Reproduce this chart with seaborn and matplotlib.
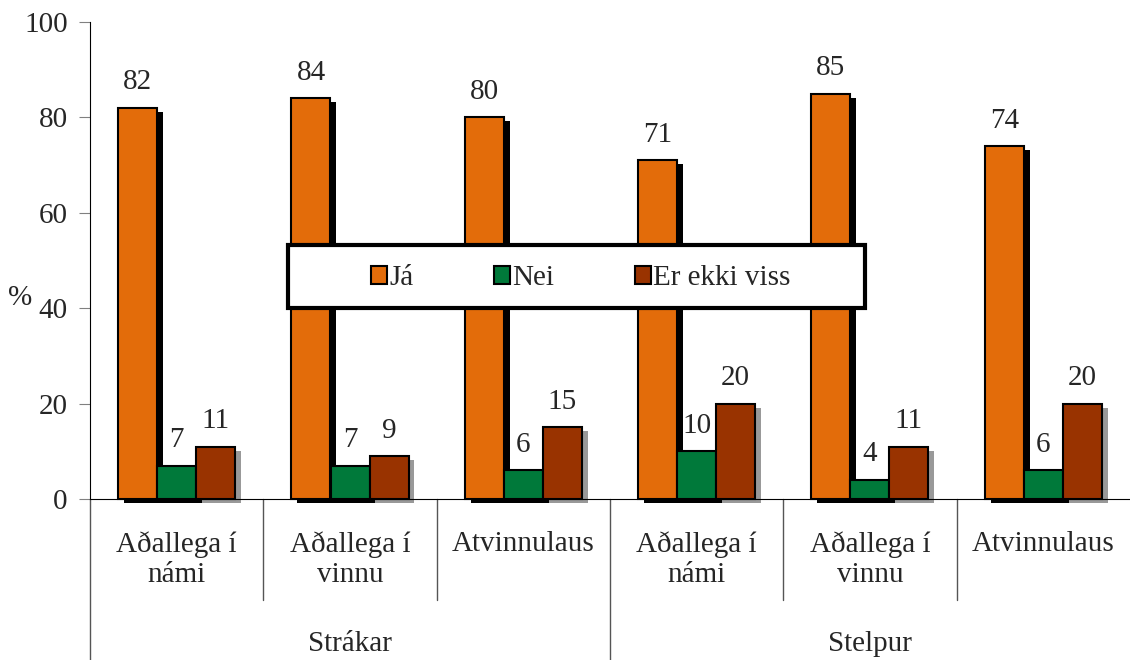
import pandas as pd
import matplotlib.pyplot as plt
import matplotlib.patheffects as pe
from matplotlib.patches import Patch, Rectangle
import matplotlib.transforms as mtransforms
import seaborn as sns

# ---- data ----
groups = ["Strákar", "Stelpur"]
categories = ["Aðallega í\nnámi", "Aðallega í\nvinnu", "Atvinnulaus",
              "Aðallega í\nnámi", "Aðallega í\nvinnu", "Atvinnulaus"]
responses = ["Já", "Nei", "Er ekki viss"]
ja = [82, 84, 80, 71, 85, 74]
nei = [7, 7, 6, 10, 4, 6]
viss = [11, 9, 15, 20, 11, 20]
colors = ["#E36C0A", "#00793A", "#993300"]

rows = []
for i in range(len(categories)):
    for resp, vals in zip(responses, [ja, nei, viss]):
        rows.append({"pos": i, "svar": resp, "val": vals[i]})
df = pd.DataFrame(rows)

sns.set_style("ticks")
plt.rcParams["font.family"] = "serif"
plt.rcParams["font.serif"] = ["Liberation Serif", "DejaVu Serif"]
fs = 21

fig = plt.figure(figsize=(11.3, 6.6), dpi=100)
ax = fig.add_axes([90 / 1130, 1 - 499 / 660, 1040 / 1130, 477 / 660])

sns.barplot(data=df, x="pos", y="val", hue="svar", order=range(6),
            hue_order=responses, palette=colors, width=0.675,
            edgecolor="black", linewidth=1.5, saturation=1, legend=False, ax=ax)

# drop shadows: black behind Já/Nei, grey behind Er ekki viss
shadow_cols = ["black", "black", "#999999"]
for cont, sc in zip(ax.containers, shadow_cols):
    for bar in cont:
        bar.set_clip_on(False)
        bar.set_path_effects([pe.SimplePatchShadow(offset=(4.3, -2.9),
                                                   shadow_rgbFace=sc, alpha=1.0),
                              pe.Normal()])
    ax.bar_label(cont, fmt="%d", padding=9, fontsize=fs)

ax.set_xlim(-0.5, 5.5)
ax.set_ylim(0, 100)
ax.set_yticks(range(0, 101, 20))
ax.tick_params(axis="y", labelsize=fs, length=8, color="#808080", pad=8)
ax.set_xticks(range(6))
ax.set_xticklabels(categories, fontsize=fs)
ax.tick_params(axis="x", length=0, pad=23)
ax.set_xlabel("")
ax.set_ylabel("")
sns.despine(ax=ax, top=True, right=True)
ax.spines["left"].set_color("black")
ax.spines["bottom"].set_color("black")

# separators below the axis
trans = mtransforms.blended_transform_factory(ax.transData, ax.transAxes)
for x in [0.5, 1.5, 3.5, 4.5]:
    ax.plot([x, x], [0, -0.212], transform=trans, color="#555555", lw=1, clip_on=False)
for x in [-0.5, 2.5]:
    ax.plot([x, x], [0, -0.4], transform=trans, color="#555555", lw=1, clip_on=False)

for gx, g in zip([1, 4], groups):
    ax.text(gx, -0.277, g, transform=trans, ha="center", va="top", fontsize=fs)

fig.text(20 / 1130, 1 - 298 / 660, "%", ha="center", va="center", fontsize=fs)

# legend box
box = Rectangle((0.190, 0.400), 0.555, 0.132, transform=ax.transAxes,
                facecolor="white", edgecolor="black", linewidth=3, zorder=4)
ax.add_patch(box)
handles = [Patch(facecolor=c, edgecolor="black", linewidth=1.5) for c in colors]
ax.legend(handles, responses, loc="center", bbox_to_anchor=(0.472, 0.463),
          ncol=3, frameon=False, fontsize=fs, handlelength=0.55, handleheight=0.55,
          handletextpad=0.08, columnspacing=2.75)

plt.savefig("out.png", dpi=100)
